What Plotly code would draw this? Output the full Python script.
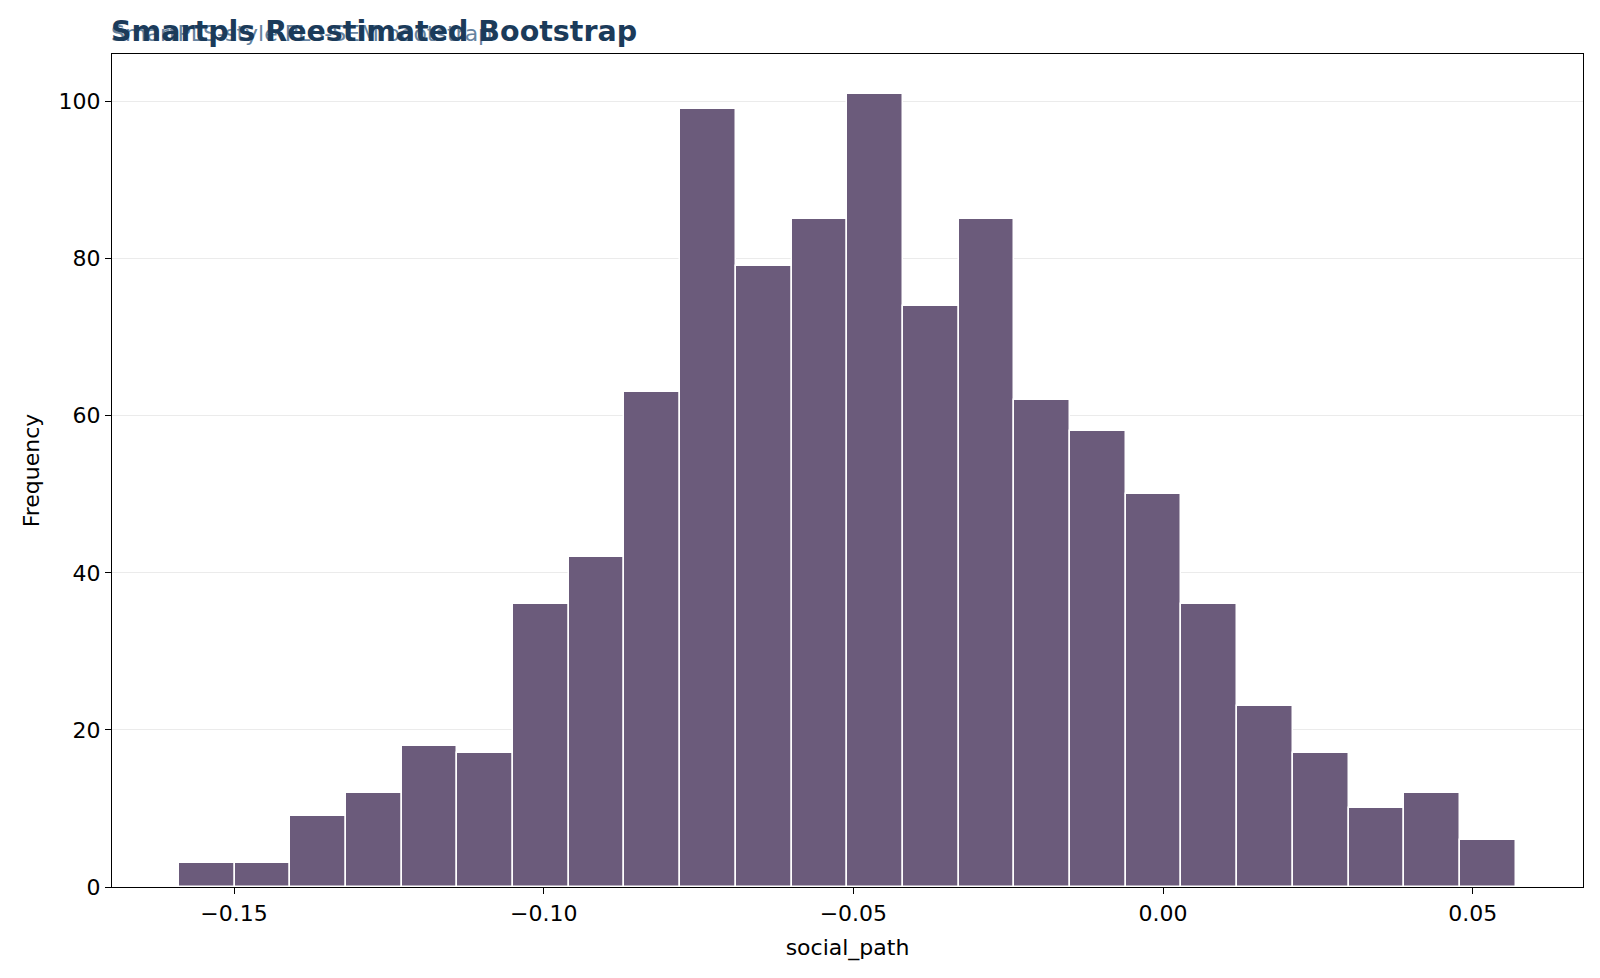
import plotly.graph_objects as go

# bootstrap histogram of social_path (24 bins)
bin_start = -0.1589
bin_width = 0.008993
counts = [3, 3, 9, 12, 18, 17, 36, 42, 63, 99, 79, 85,
          101, 74, 85, 62, 58, 50, 36, 23, 17, 10, 12, 6]
x_ticks = [-0.15, -0.10, -0.05, 0.00, 0.05]
x_tick_labels = ["\u22120.15", "\u22120.10", "\u22120.05", "0.00", "0.05"]
y_ticks = [0, 20, 40, 60, 80, 100]

title = "Smartpls Reestimated Bootstrap"
subtitle = "SmartPLS-style PLS-SEM bootstrap"

centers = [bin_start + bin_width * (i + 0.5) for i in range(len(counts))]

fig = go.Figure(go.Bar(
    x=centers,
    y=counts,
    width=bin_width,
    marker=dict(color="#6b5b7b", line=dict(color="white", width=1.5)),
    hovertemplate="%{x:.3f}: %{y}<extra></extra>",
))

axis_common = dict(
    showline=True, linecolor="black", linewidth=1.2, mirror=True,
    ticks="outside", ticklen=6, tickcolor="black", tickwidth=1.2,
    zeroline=False, tickfont=dict(size=22, color="black"),
)

fig.update_layout(
    width=1600, height=978,
    margin=dict(l=104, r=25, t=46, b=99),
    plot_bgcolor="white", paper_bgcolor="white",
    font=dict(family="DejaVu Sans", color="black"),
    showlegend=False,
    bargap=0,
    xaxis=dict(
        range=[-0.1697, 0.0678],
        tickvals=x_ticks, ticktext=x_tick_labels,
        showgrid=False,
        title=dict(text="social_path", font=dict(size=22), standoff=15),
        **axis_common,
    ),
    yaxis=dict(
        range=[0, 106.05],
        tickvals=y_ticks,
        showgrid=True, gridcolor="#ebebeb", gridwidth=1,
        title=dict(text="Frequency", font=dict(size=22), standoff=12),
        **axis_common,
    ),
    annotations=[
        dict(text=subtitle, xref="paper", yref="paper", x=0, y=1,
             xanchor="left", yanchor="bottom", yshift=7, xshift=-2,
             showarrow=False, borderpad=0,
             font=dict(size=22, color="#6683a0")),
        dict(text="<b>" + title + "</b>", xref="paper", yref="paper", x=0, y=1,
             xanchor="left", yanchor="bottom", yshift=5, xshift=-2,
             showarrow=False, borderpad=0,
             font=dict(size=28.5, color="#1b3b5a")),
    ],
)

fig.write_html("out.html")
